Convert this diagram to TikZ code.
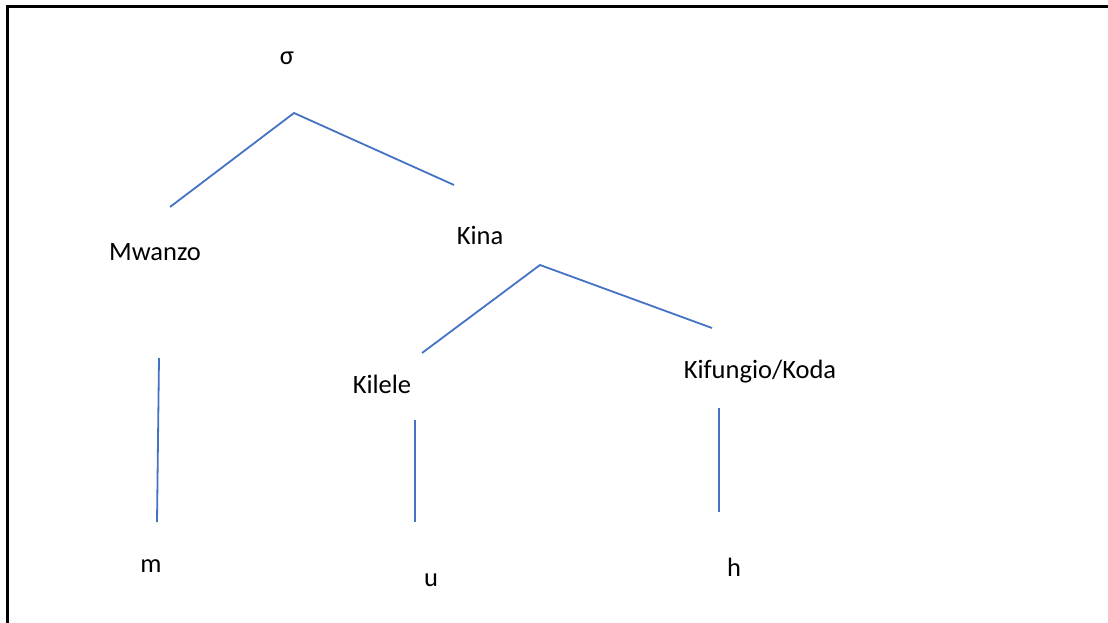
\documentclass[tikz,border=0pt]{standalone}
\usepackage{fontspec}
\setmainfont{Carlito}
\begin{document}
\begin{tikzpicture}[x=1pt,y=-1pt,
  lbl/.style={inner sep=0pt,font=\fontsize{26.5}{30}\selectfont},
  branch/.style={draw={rgb,255:red,68;green,114;blue,196},line width=1.8pt}]
\useasboundingbox (0,0) rectangle (1108,623);
\draw[line width=3pt] (7,623) -- (7,7) -- (1108,7);
% labels
\node[lbl] (sigma) at (287,58) {σ};
\node[lbl] (mwanzo) at (155,252) {Mwanzo};
\node[lbl] (kina) at (480,235) {Kina};
\node[lbl] (kilele) at (382,384) {Kilele};
\node[lbl] (koda) at (760,372) {Kifungio/Koda};
\node[lbl] (m) at (151,566) {m};
\node[lbl] (u) at (431,580) {u};
\node[lbl] (h) at (734,567) {h};
% line end points
\coordinate (s1) at (170,207);
\coordinate (s0) at (294,113);
\coordinate (s2) at (454,185);
\coordinate (k1) at (422,353);
\coordinate (k0) at (540,265);
\coordinate (k2) at (712,328);
\coordinate (a1) at (159,358);
\coordinate (a2) at (157,522);
\coordinate (b1) at (415,420);
\coordinate (b2) at (415,522);
\coordinate (c1) at (719,408);
\coordinate (c2) at (719,512);
\draw[branch] (s1) -- (s0) -- (s2);
\draw[branch] (k1) -- (k0) -- (k2);
\draw[branch] (a1) -- (a2);
\draw[branch] (b1) -- (b2);
\draw[branch] (c1) -- (c2);
\end{tikzpicture}
\end{document}
